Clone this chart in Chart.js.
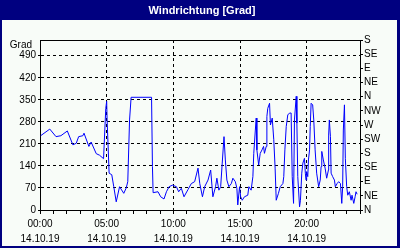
<!DOCTYPE html>
<html><head><meta charset="utf-8">
<script src="https://cdn.jsdelivr.net/npm/chart.js@4/dist/chart.umd.min.js"></script>
<style>html,body{margin:0;padding:0;background:#fff}#c{display:block}</style>
</head><body>
<canvas id="c" width="400" height="250"></canvas>
<script>
const title = "Windrichtung [Grad]";
const yTitle = "Grad";
const dateLabel = "14.10.19";
const yTicks = [0, 70, 140, 210, 280, 350, 420, 490];
const compass = ["N","NE","E","SE","S","SW","W","NW","N","NE","E","SE","S"];
const times = [
 "00:03","00:44","01:12","01:34","02:03","02:28","02:43","02:54","03:13","03:18","03:40","03:50",
 "04:13","04:28","04:46","04:56","05:00","05:02","05:11","05:23","05:32","05:43","05:58",
 "06:17","06:28","06:35","06:43","06:50","08:22","08:26","08:29","08:51",
 "09:03","09:18","09:29","09:41","09:56","10:14","10:24","10:36","10:48",
 "11:06","11:21","11:36","11:51","11:59","12:11","12:21","12:36","12:48","12:58",
 "13:10","13:16","13:25","13:33","13:40","13:48","13:54","14:01","14:10","14:21","14:28","14:39","14:46","14:50","14:58",
 "15:03","15:10","15:20","15:35","15:40","15:50","15:58","16:02","16:09","16:13","16:16","16:24","16:31","16:39","16:46","16:50","16:58",
 "17:01","17:05","17:13","17:17","17:25","17:32","17:38","17:43","17:53",
 "18:01","18:13","18:17","18:22","18:28","18:35","18:43","18:50","18:55",
 "19:01","19:05","19:13","19:16","19:20","19:28","19:32","19:38","19:43","19:50","19:54","19:57",
 "20:00","20:05","20:08","20:13","20:16","20:20","20:27","20:32","20:38","20:45","20:54",
 "21:01","21:05","21:08","21:15","21:23","21:30","21:38","21:39","21:42","21:47","21:50","21:57",
 "22:05","22:09","22:17","22:24","22:32","22:38","22:42","22:45","22:50","22:54",
 "23:00","23:05","23:12","23:20","23:24","23:32","23:38","23:42","23:47"];
const direction = [
 236,257,233,236,251,207,212,233,236,244,202,216,
 179,174,163,323,345,286,117,112,74,26,74,
 53,70,90,286,358,358,138,55,58,
 42,35,58,74,79,74,58,69,42,
 65,84,90,133,84,42,74,95,127,42,
 74,101,63,74,149,233,159,95,74,84,101,90,69,16,74,
 42,31,42,47,74,63,106,180,254,292,191,143,180,191,202,180,202,
 297,323,339,270,292,223,133,31,53,
 74,84,106,191,265,302,308,308,106,
 21,286,361,276,106,10,31,117,149,164,117,95,
 122,106,159,191,265,339,334,286,191,117,74,
 95,138,186,159,133,101,127,238,286,233,117,106,
 95,74,84,90,84,21,74,254,334,164,
 74,47,58,31,47,21,42,58,50];

const toMin = s => { const [h,m] = s.split(":").map(Number); return h*60+m; };
const pts = times.map((t,i) => ({x: toMin(t), y: direction[i]}));
const pad2 = n => String(n).padStart(2,"0");
const FONT = "Liberation Sans, Arial, sans-serif";

const frame = {
  id: "frame",
  beforeDraw(chart) {
    const ctx = chart.ctx;
    ctx.save();
    ctx.fillStyle = "#f8fcf8";
    ctx.fillRect(0,0,400,250);
    ctx.fillStyle = "#000080";
    ctx.fillRect(0,0,400,20);
    ctx.fillRect(0,0,2,248);
    ctx.fillRect(397,0,3,248);
    ctx.fillRect(0,246,400,2);
    ctx.fillStyle = "#ffffff";
    ctx.font = "bold 11px " + FONT;
    ctx.textAlign = "center"; ctx.textBaseline = "middle";
    ctx.fillText(title, 202, 10.5);
    ctx.fillStyle = "#000";
    ctx.font = "10px " + FONT;
    ctx.textAlign = "right";
    ctx.fillText(yTitle, 32, 45);
    ctx.restore();
  },
  afterDraw(chart) {
    const a = chart.chartArea, ctx = chart.ctx;
    ctx.save();
    ctx.strokeStyle = "#000"; ctx.lineWidth = 1;
    ctx.beginPath(); ctx.moveTo(a.left, a.top + 0.5); ctx.lineTo(a.right, a.top + 0.5); ctx.stroke();
    ctx.restore();
  }
};

new Chart(document.getElementById("c"), {
  type: "line",
  data: { datasets: [{ data: pts, borderColor: "#0000ff", borderWidth: 1, pointRadius: 0, tension: 0, fill: false }] },
  options: {
    responsive: false, animation: false,
    layout: { padding: { top: 40, left: 0, right: 0, bottom: 0 } },
    plugins: { legend: { display: false }, tooltip: { enabled: false } },
    scales: {
      x: {
        type: "linear", min: 0, max: 1440,
        afterFit: s => { s.height = 40; },
        ticks: {
          stepSize: 60, autoSkip: false, maxRotation: 0, padding: 3, color: "#000",
          font: { family: FONT, size: 10, lineHeight: 1.5 },
          callback: v => (v % 300 === 0 && v < 1440) ? [pad2(v/60) + ":00", dateLabel] : ""
        },
        grid: {
          color: c => (c.tick && c.tick.value % 300 === 0 && c.tick.value > 0 && c.tick.value < 1440) ? "#000" : "rgba(0,0,0,0)",
          tickColor: "#000", tickLength: 4, tickBorderDash: [], lineWidth: 1
        },
        border: { color: "#000", width: 1, dash: [3,3] }
      },
      y: {
        type: "linear", position: "left", min: 0, max: 540,
        afterFit: s => { s.width = 40; },
        afterBuildTicks: s => { s.ticks = yTicks.map(v => ({ value: v })); },
        ticks: { color: "#000", padding: 2, autoSkip: false, font: { family: FONT, size: 10 } },
        grid: {
          color: c => (c.tick && c.tick.value > 0) ? "#000" : "rgba(0,0,0,0)",
          tickColor: "#000", tickLength: 2, tickBorderDash: []
        },
        border: { color: "#000", width: 1, dash: [3,3] }
      },
      y2: {
        type: "linear", position: "right", min: 0, max: 540,
        afterFit: s => { s.width = 40; },
        afterBuildTicks: s => { s.ticks = compass.map((n,i) => ({ value: i*45 })); },
        ticks: { color: "#000", padding: 1, autoSkip: false, font: { family: FONT, size: 10 }, callback: (v) => compass[Math.round(v/45)] },
        grid: { drawOnChartArea: false, tickColor: "#000", tickLength: 3 },
        border: { color: "#000", width: 1 }
      }
    }
  },
  plugins: [frame]
});
</script>
</body></html>
